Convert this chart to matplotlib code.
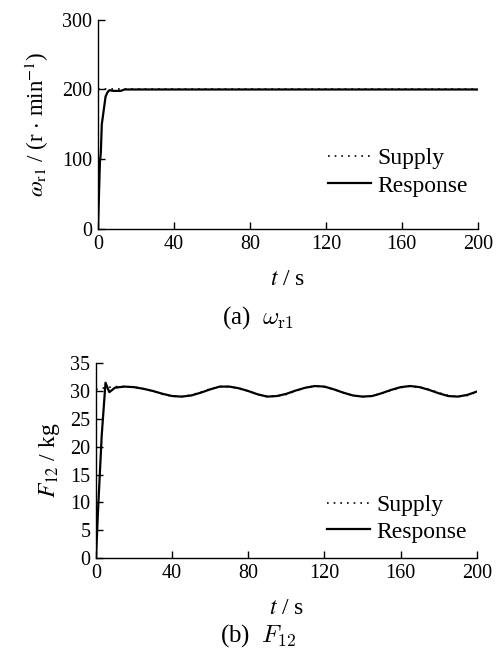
import numpy as np
import matplotlib.pyplot as plt
from matplotlib import rcParams

rcParams['font.family'] = ['Liberation Serif', 'DejaVu Serif']
rcParams['mathtext.fontset'] = 'stix'

# (a) rotor speed
t_w_sup = [0, 200]
w_sup = [200, 200]
t_w_res = [0, 1, 1.5, 2, 4, 5, 6, 8, 10, 12, 14, 20, 200]
w_res = [0, 95, 110, 150, 190, 196, 199, 198, 198, 198, 200, 200, 200]

# (b) tension
t_f = [0, 5, 10, 15, 20, 25, 30, 35, 40, 45, 50, 55, 60, 65, 70, 75, 80, 85,
       90, 95, 100, 105, 110, 115, 120, 125, 130, 135, 140, 145, 150, 155,
       160, 165, 170, 175, 180, 185, 190, 195, 200]
f_sup = [30.3, 30.6, 30.8, 30.8, 30.7, 30.4, 30.0, 29.4, 29.1, 29.0, 29.3,
         29.8, 30.4, 30.8, 30.8, 30.5, 30.0, 29.4, 29.0, 29.1, 29.4, 30.0,
         30.6, 30.9, 30.7, 30.3, 29.7, 29.2, 29.0, 29.1, 29.6, 30.1, 30.6,
         30.9, 30.7, 30.3, 29.7, 29.2, 29.0, 29.2, 29.8]
t_f_res = [0, 1, 3, 5, 7, 10] + t_f[3:]
f_res = [0, 8, 22, 31.5, 29.8, 30.6,
         30.8, 30.7, 30.4, 30.0, 29.5, 29.1, 29.0, 29.2, 29.7, 30.3,
         30.8, 30.8, 30.5, 30.0, 29.4, 29.0, 29.1, 29.5, 30.1, 30.6,
         30.9, 30.8, 30.3, 29.7, 29.2, 29.0, 29.1, 29.6, 30.2, 30.7,
         30.9, 30.7, 30.2, 29.6, 29.1, 29.0, 29.3, 29.9]

fig = plt.figure(figsize=(5.01, 6.58), dpi=100)
ax1 = fig.add_axes([0.1956, 0.652, 0.758, 0.318])
ax2 = fig.add_axes([0.1916, 0.152, 0.760, 0.296])

for ax in (ax1, ax2):
    for s in ('top', 'right'):
        ax.spines[s].set_visible(False)
    ax.spines['left'].set_linewidth(1.0)
    ax.spines['bottom'].set_linewidth(1.0)
    ax.tick_params(direction='in', length=5, width=1.0, labelsize=14.5, pad=4)
    ax.set_xlim(0, 200)
    ax.set_xticks(np.arange(0, 201, 40))
    ax.set_xlabel(r'$t$ / s', fontsize=17, labelpad=11)

ax1.plot(t_w_sup, w_sup, color='black', linestyle=(0, (1, 3)), lw=1.2, label='Supply')
ax1.plot(t_w_res, w_res, color='black', lw=1.6, label='Response')
ax1.set_ylim(0, 300)
ax1.set_yticks([0, 100, 200, 300])
ax1.set_ylabel(r'$\omega_{\rm r1}$ / (r $\cdot$ min$^{-1}$)', fontsize=16.5, labelpad=8)
ax1.legend(loc='lower right', bbox_to_anchor=(1.0, 0.11), frameon=False,
           fontsize=17, handlelength=1.8, handletextpad=0.3, labelspacing=0.25,
           borderaxespad=0)

ax2.plot(t_f, f_sup, color='black', linestyle=(0, (1, 3)), lw=1.2, label='Supply')
ax2.plot(t_f_res, f_res, color='black', lw=1.6, label='Response')
ax2.set_ylim(0, 35)
ax2.set_yticks(np.arange(0, 36, 5))
ax2.set_ylabel(r'$F_{\rm 12}$ / kg', fontsize=17, labelpad=6)
ax2.legend(loc='lower right', bbox_to_anchor=(1.0, 0.03), frameon=False,
           fontsize=17, handlelength=1.8, handletextpad=0.3, labelspacing=0.2,
           borderaxespad=0)

fig.text(0.515, 1 - 318 / 658, r'(a)  $\omega_{\mathrm{r1}}$', ha='center', va='center',
         fontsize=18, math_fontfamily='cm')
fig.text(0.515, 1 - 636 / 658, r'(b)  $F_{12}$', ha='center', va='center',
         fontsize=18, math_fontfamily='cm')

plt.savefig('out.png', dpi=100)
